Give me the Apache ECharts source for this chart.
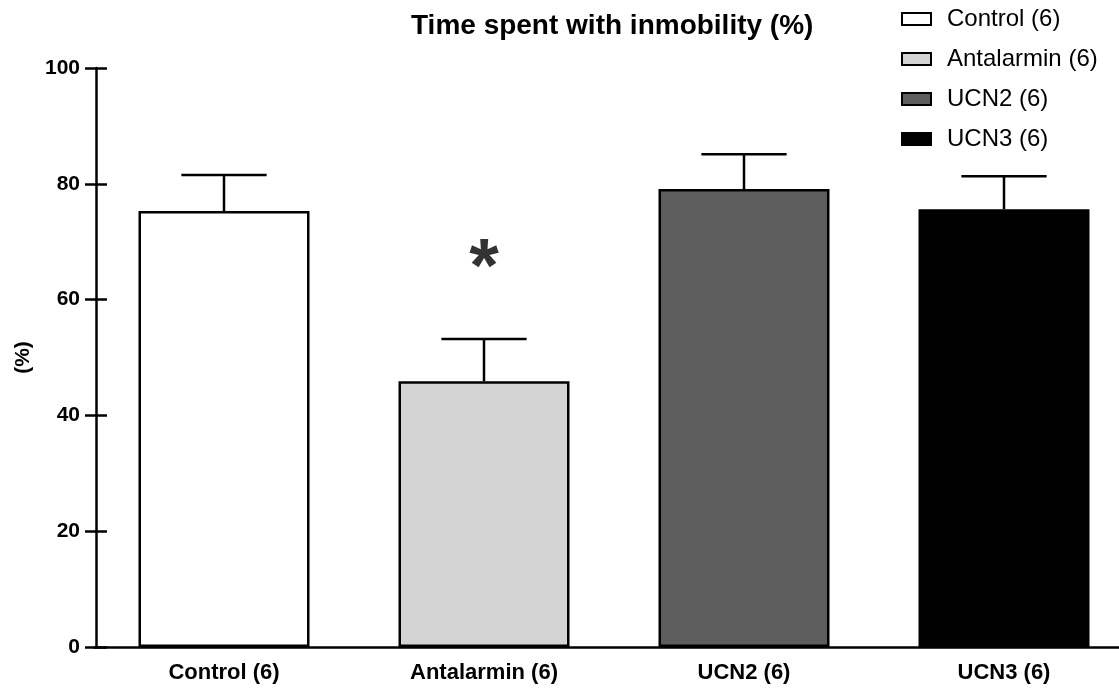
<!DOCTYPE html>
<html>
<head>
<meta charset="utf-8">
<script src="https://cdn.jsdelivr.net/npm/echarts@6/dist/echarts.min.js"></script>
</head>
<body style="margin:0;background:#fff;overflow:hidden">
<!-- the plot area runs past the right edge of the window, as in the original -->
<div id="main" style="width:1136px;height:689px;"></div>
<script type="text/javascript">
// groups and values
var categories = ['Control (6)', 'Antalarmin (6)', 'UCN2 (6)', 'UCN3 (6)'];
var means = [75.3, 45.9, 79.1, 75.6];
var sems = [6.2, 7.3, 6.0, 5.7];
var barColors = ['#ffffff', '#d4d4d4', '#5e5e5e', '#000000'];
var yTicks = [0, 20, 40, 60, 80, 100];
// significance mark over Antalarmin
var starData = [[1, 68]];

var chart = echarts.init(document.getElementById('main'));
var font = 'Liberation Sans, Arial, sans-serif';

var series = [];
categories.forEach(function (c, i) {
  var d = categories.map(function (_, j) { return j === i ? means[i] : '-'; });
  series.push({
    name: c,
    type: 'bar',
    data: d,
    barWidth: 171,
    barGap: '-100%',
    itemStyle: { color: barColors[i], borderColor: '#000', borderWidth: 2.5 },
    emphasis: { disabled: true }
  });
});

// error bars (mean + SEM, upper only)
series.push({
  type: 'custom',
  silent: true,
  z: 1,
  data: means.map(function (m, i) { return [i, m, m + sems[i]]; }),
  renderItem: function (params, api) {
    var base = api.coord([api.value(0), api.value(1)]);
    var top = api.coord([api.value(0), api.value(2)]);
    var half = api.size([1, 0])[0] * 0.164;
    var st = { stroke: '#000', lineWidth: 2.5 };
    return {
      type: 'group',
      children: [
        { type: 'line', shape: { x1: base[0], y1: base[1], x2: top[0], y2: top[1] }, style: st },
        { type: 'line', shape: { x1: top[0] - half, y1: top[1], x2: top[0] + half, y2: top[1] }, style: st }
      ]
    };
  }
});

series.push({
  type: 'scatter',
  silent: true,
  symbolSize: 0,
  data: starData,
  label: {
    show: true,
    formatter: '*',
    position: 'inside',
    fontSize: 76,
    fontWeight: 'bold',
    fontFamily: font,
    color: '#000',
    offset: [0, 17]
  }
});

var option = {
  animation: false,
  title: {
    text: 'Time spent with inmobility (%)',
    left: 406,
    top: 7,
    textStyle: { fontFamily: font, fontSize: 28, fontWeight: 'bold', color: '#000' }
  },
  legend: {
    data: categories,
    orient: 'vertical',
    left: 901,
    top: 7,
    padding: 0,
    itemWidth: 29,
    itemHeight: 12,
    itemGap: 16,
    icon: 'rect',
    selectedMode: false,
    itemStyle: { borderColor: '#000', borderWidth: 2 },
    textStyle: { fontFamily: font, fontSize: 24, color: '#000', padding: [0, 0, 0, 11] }
  },
  grid: { left: 94, right: 2, top: 68, bottom: 42, containLabel: false },
  xAxis: {
    type: 'category',
    data: categories,
    axisLine: { lineStyle: { color: '#000', width: 2.5 } },
    axisTick: { show: false },
    axisLabel: { fontFamily: font, fontSize: 22, fontWeight: 'bold', color: '#000', margin: 15 }
  },
  yAxis: [{
    type: 'value',
    min: 0,
    max: 100,
    interval: 20,
    offset: -2,
    name: '(%)',
    nameLocation: 'middle',
    nameGap: 58,
    nameRotate: 90,
    nameTextStyle: { fontFamily: font, fontSize: 21, fontWeight: 'bold', color: '#000' },
    axisLine: { show: true, lineStyle: { color: '#000', width: 2.5 } },
    axisTick: { show: true, length: 11, lineStyle: { color: '#000', width: 2.5 } },
    axisLabel: { fontFamily: font, fontSize: 21, fontWeight: 'bold', color: '#000', margin: 16,
      formatter: function (v) { return yTicks.indexOf(v) >= 0 ? v : ''; } },
    splitLine: { show: false }
  }, {
    type: 'value',
    min: 0,
    max: 100,
    interval: 20,
    position: 'left',
    offset: -2,
    axisLine: { show: false },
    axisTick: { show: true, inside: true, length: 11, lineStyle: { color: '#000', width: 2.5 } },
    axisLabel: { show: false },
    splitLine: { show: false }
  }],
  series: series
};
chart.setOption(option);
</script>
</body>
</html>
